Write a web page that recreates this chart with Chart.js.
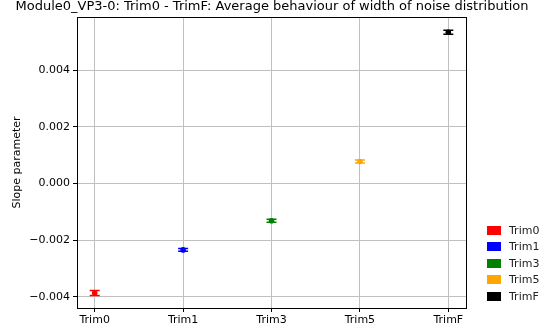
<!DOCTYPE html>
<html>
<head>
<meta charset="utf-8">
<script src="https://cdn.jsdelivr.net/npm/chart.js@4.4.1/dist/chart.umd.min.js"></script>
<style>
  html, body { margin: 0; padding: 0; background: #fff; }
  #wrap { position: relative; width: 546px; height: 333px; }
  #legend {
    position: absolute; left: 487px; top: 222px;
    font: 11px "DejaVu Sans", sans-serif; color: #222;
  }
  #legend .row { display: flex; align-items: center; height: 16.5px; }
  #legend .sw { width: 14px; height: 9px; margin-right: 8px; }
</style>
</head>
<body>
<div id="wrap">
  <canvas id="c" width="546" height="333"></canvas>
  <div id="legend"></div>
</div>
<script>
// Slope parameter per trim step, with its fit uncertainty.
const trims = ["Trim0", "Trim1", "Trim3", "Trim5", "TrimF"];
const slopes = [-0.00386, -0.00234, -0.00131, 0.00078, 0.00534];
const slopeErrors = [0.00009, 0.00005, 0.00005, 0.00005, 0.00007];
const colours = ["#ff0000", "#0000ff", "#008000", "#ffa500", "#000000"];
const yTicks = [-0.004, -0.002, 0.000, 0.002, 0.004];

const FONT = "DejaVu Sans";

const datasets = trims.map((name, i) => ({
  label: name,
  data: [{ x: i, y: slopes[i], err: slopeErrors[i] }],
  backgroundColor: colours[i],
  borderColor: colours[i],
  pointRadius: 2.8,
  pointBorderWidth: 0,
  pointStyle: "circle",
}));

// error bars with caps, drawn in data space
const errorBars = {
  id: "errorBars",
  afterDatasetsDraw(chart) {
    const { ctx, scales: { x, y } } = chart;
    ctx.save();
    chart.data.datasets.forEach((ds) => {
      ds.data.forEach((p) => {
        const px = x.getPixelForValue(p.x);
        const top = y.getPixelForValue(p.y + p.err);
        const bot = y.getPixelForValue(p.y - p.err);
        ctx.strokeStyle = ds.borderColor;
        ctx.lineWidth = 1.5;
        ctx.beginPath();
        ctx.moveTo(px, top); ctx.lineTo(px, bot);
        ctx.moveTo(px - 5, top); ctx.lineTo(px + 5, top);
        ctx.moveTo(px - 5, bot); ctx.lineTo(px + 5, bot);
        ctx.stroke();
      });
    });
    ctx.restore();
  },
};

// full frame round the axes plus the title above it
const frame = {
  id: "frame",
  afterDraw(chart) {
    const { ctx, chartArea: a } = chart;
    ctx.save();
    ctx.strokeStyle = "#000";
    ctx.lineWidth = 1;
    ctx.strokeRect(Math.round(a.left) + 0.5, Math.round(a.top) + 0.5,
      Math.round(a.right - a.left), Math.round(a.bottom - a.top));
    ctx.fillStyle = "#000";
    ctx.font = `13px "${FONT}"`;
    ctx.textAlign = "center";
    ctx.textBaseline = "middle";
    ctx.fillText("Module0_VP3-0: Trim0 - TrimF: Average behaviour of width of noise distribution",
      272, 7);
    ctx.restore();
  },
};

new Chart(document.getElementById("c"), {
  type: "scatter",
  data: { datasets },
  options: {
    responsive: false,
    animation: false,
    layout: { padding: { left: 0, top: 17, right: 80, bottom: 0 } },
    plugins: { legend: { display: false }, tooltip: { enabled: false }, title: { display: false } },
    scales: {
      x: {
        type: "linear",
        min: -0.2,
        max: 4.2,
        afterBuildTicks(s) { s.ticks = trims.map((_, i) => ({ value: i })); },
        afterFit(s) { s.height = 25; },
        ticks: {
          callback: (v) => trims[v] ?? "",
          color: "#000",
          font: { family: FONT, size: 11 },
          padding: 2,
          maxRotation: 0,
        },
        grid: { color: "#c0c0c0", tickColor: "#000", tickLength: 4 },
        border: { color: "#000" },
      },
      y: {
        type: "linear",
        min: -0.00439,
        max: 0.00588,
        afterBuildTicks(s) { s.ticks = yTicks.map((v) => ({ value: v })); },
        afterFit(s) { s.width = 77; },
        ticks: {
          callback: (v) => (v < 0 ? "\u2212" : "") + Math.abs(v).toFixed(3),
          color: "#000",
          font: { family: FONT, size: 11 },
          padding: 3,
        },
        title: {
          display: true,
          text: "Slope parameter",
          color: "#000",
          font: { family: FONT, size: 11 },
          padding: { top: 11, bottom: 2 },
        },
        grid: { color: "#c0c0c0", tickColor: "#000", tickLength: 4 },
        border: { color: "#000" },
      },
    },
  },
  plugins: [errorBars, frame],
});

const legend = document.getElementById("legend");
trims.forEach((name, i) => {
  const row = document.createElement("div");
  row.className = "row";
  row.innerHTML = `<span class="sw" style="background:${colours[i]}"></span><span>${name}</span>`;
  legend.appendChild(row);
});
</script>
</body>
</html>
